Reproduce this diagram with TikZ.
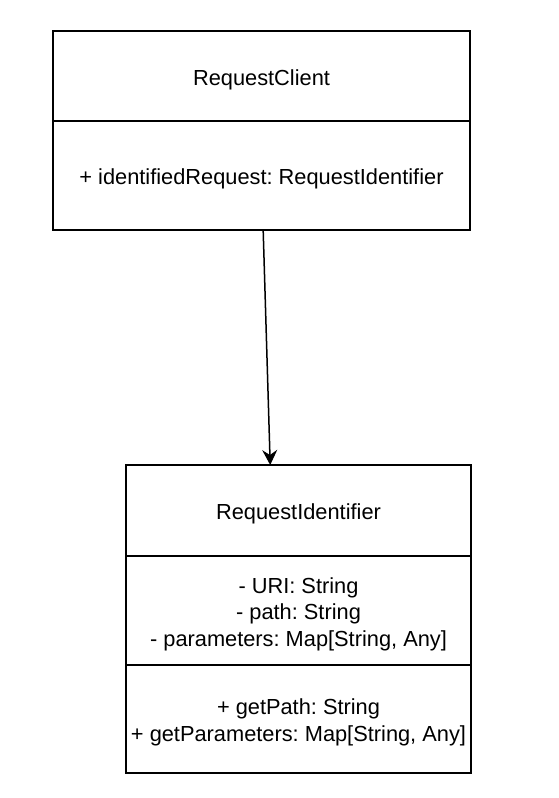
\documentclass[tikz,border=0pt]{standalone}
\usepackage{fontspec}
\setmainfont{Liberation Sans}
\usetikzlibrary{arrows.meta,calc}
\newcommand\umlfont{\fontsize{21.8}{26.5}\selectfont\frenchspacing}
\begin{document}
\begin{tikzpicture}[x=1pt,y=-1pt,
  compart/.style={draw=black, line width=1.5pt, fill=white,
    inner sep=0pt, outer sep=0pt, anchor=north west, minimum width=#1},
  txt/.style={font=\umlfont, align=center, inner sep=0pt, yshift=-3.5pt},
  conn/.style={draw=black, line width=1.5pt, -{Stealth[length=15pt,width=15pt,inset=5pt]}}
]
\useasboundingbox (0,0) rectangle (558,798);
% RequestClient
\node[compart=417pt, minimum height=90pt,
  label={[txt]center:RequestClient}] (rc) at (53,31) {};
\node[compart=417pt, minimum height=109pt,
  label={[txt]center:+ identifiedRequest: RequestIdentifier}] (rca) at (53,121) {};
% RequestIdentifier
\node[compart=345pt, minimum height=91pt,
  label={[txt]center:RequestIdentifier}] (ri) at (126,465) {};
\node[compart=345pt, minimum height=109pt,
  label={[txt]center:{- URI: String\\- path: String\\- parameters: Map[String, Any]}}] (ria) at (126,556) {};
\node[compart=345pt, minimum height=108pt,
  label={[txt]center:{+ getPath: String\\+ getParameters: Map[String, Any]}}] (rim) at (126,665) {};
% association
\draw[conn] ($(rca.south west)!0.504!(rca.south east)$) -- ($(ri.north west)!0.418!(ri.north east)$);
\end{tikzpicture}
\end{document}
